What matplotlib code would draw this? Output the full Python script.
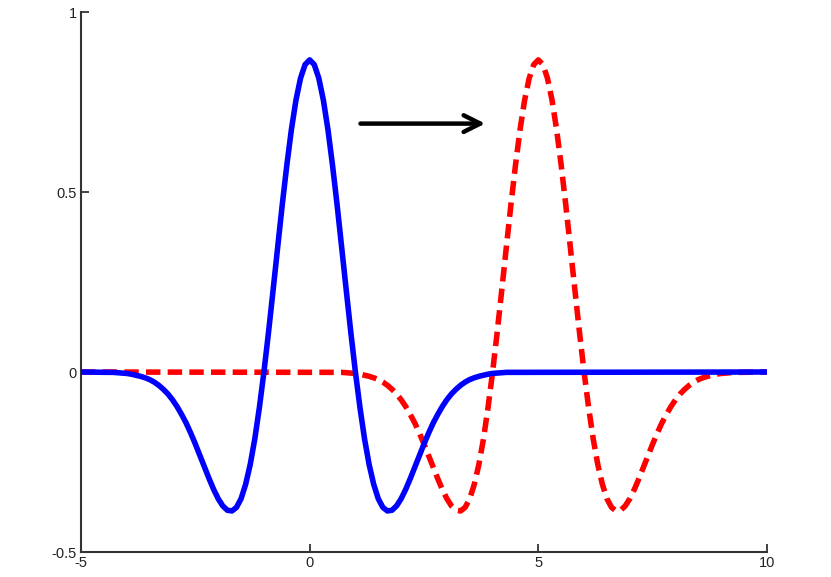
import numpy as np
import matplotlib
matplotlib.use('Agg')
import matplotlib.pyplot as plt

# sample positions: flat ends plus a 0.1 grid over the active part of each curve
blue_x = np.concatenate([[-5], np.round(np.arange(-4.4, 4.401, 0.1), 2), [10]])
red_x = np.concatenate([[-5], np.round(np.arange(0.6, 9.401, 0.1), 2), [10]])

# blue solid curve (centred at x=0)
blue_y = [0,
          -0.001, -0.001, -0.002, -0.003, -0.004, -0.006, -0.009, -0.012, -0.016, -0.021,
          -0.028, -0.037, -0.048, -0.061, -0.077, -0.096, -0.118, -0.142, -0.170, -0.200,
          -0.232, -0.264, -0.296, -0.326, -0.352, -0.372, -0.384, -0.386, -0.376, -0.352,
          -0.312, -0.257, -0.186, -0.099, 0.0, 0.110, 0.227, 0.346, 0.464, 0.574,
          0.673, 0.755, 0.816, 0.854, 0.867, 0.854, 0.816, 0.755, 0.673, 0.574,
          0.464, 0.346, 0.227, 0.110, 0.0, -0.099, -0.186, -0.257, -0.312, -0.352,
          -0.376, -0.386, -0.384, -0.372, -0.352, -0.326, -0.296, -0.264, -0.232, -0.200,
          -0.170, -0.142, -0.118, -0.096, -0.077, -0.061, -0.048, -0.037, -0.028, -0.021,
          -0.016, -0.012, -0.009, -0.006, -0.004, -0.003, -0.002, -0.001, -0.001,
          0]

# red dashed curve (centred at x=5)
red_y = [0,
         -0.001, -0.001, -0.002, -0.003, -0.004, -0.006, -0.009, -0.012, -0.016, -0.021,
         -0.028, -0.037, -0.048, -0.061, -0.077, -0.096, -0.118, -0.142, -0.170, -0.200,
         -0.232, -0.264, -0.296, -0.326, -0.352, -0.372, -0.384, -0.386, -0.376, -0.352,
         -0.312, -0.257, -0.186, -0.099, 0.0, 0.110, 0.227, 0.346, 0.464, 0.574,
         0.673, 0.755, 0.816, 0.854, 0.867, 0.854, 0.816, 0.755, 0.673, 0.574,
         0.464, 0.346, 0.227, 0.110, 0.0, -0.099, -0.186, -0.257, -0.312, -0.352,
         -0.376, -0.386, -0.384, -0.372, -0.352, -0.326, -0.296, -0.264, -0.232, -0.200,
         -0.170, -0.142, -0.118, -0.096, -0.077, -0.061, -0.048, -0.037, -0.028, -0.021,
         -0.016, -0.012, -0.009, -0.006, -0.004, -0.003, -0.002, -0.001, -0.001,
         0]

xticks = [-5, 0, 5, 10]
yticks = [-0.5, 0, 0.5, 1]
ytick_labels = ['-0.5', '0', '0.5', '1']

plt.rcParams['font.family'] = ['Liberation Sans', 'DejaVu Sans']

fig = plt.figure(figsize=(8.31, 5.77), dpi=100)
ax = fig.add_axes([81/831, 1 - 552/577, (767 - 81)/831, (552 - 12)/577])

ax.plot(blue_x, blue_y, color='#0000ff', lw=4, solid_joinstyle='round', zorder=3)
ax.plot(red_x, red_y, color='#ff0000', lw=4, linestyle=(0, (2.6, 1.3)), zorder=2)

# shift arrow
ax.annotate('', xy=(3.9, 0.69), xytext=(1.05, 0.69),
            arrowprops=dict(arrowstyle='->,head_length=1.2,head_width=0.6',
                            color='black', lw=3.2))

ax.set_xlim(-5, 10)
ax.set_ylim(-0.5, 1)
ax.set_xticks(xticks)
ax.set_xticklabels([str(t) for t in xticks])
ax.set_yticks(yticks)
ax.set_yticklabels(ytick_labels)
ax.tick_params(direction='in', length=6, width=1.2, labelsize=10.5,
               colors='#222222', pad=3)
for s in ['top', 'right']:
    ax.spines[s].set_visible(False)
for s in ['left', 'bottom']:
    ax.spines[s].set_linewidth(1.5)
    ax.spines[s].set_color('#333333')

fig.savefig('out.png', dpi=100)
